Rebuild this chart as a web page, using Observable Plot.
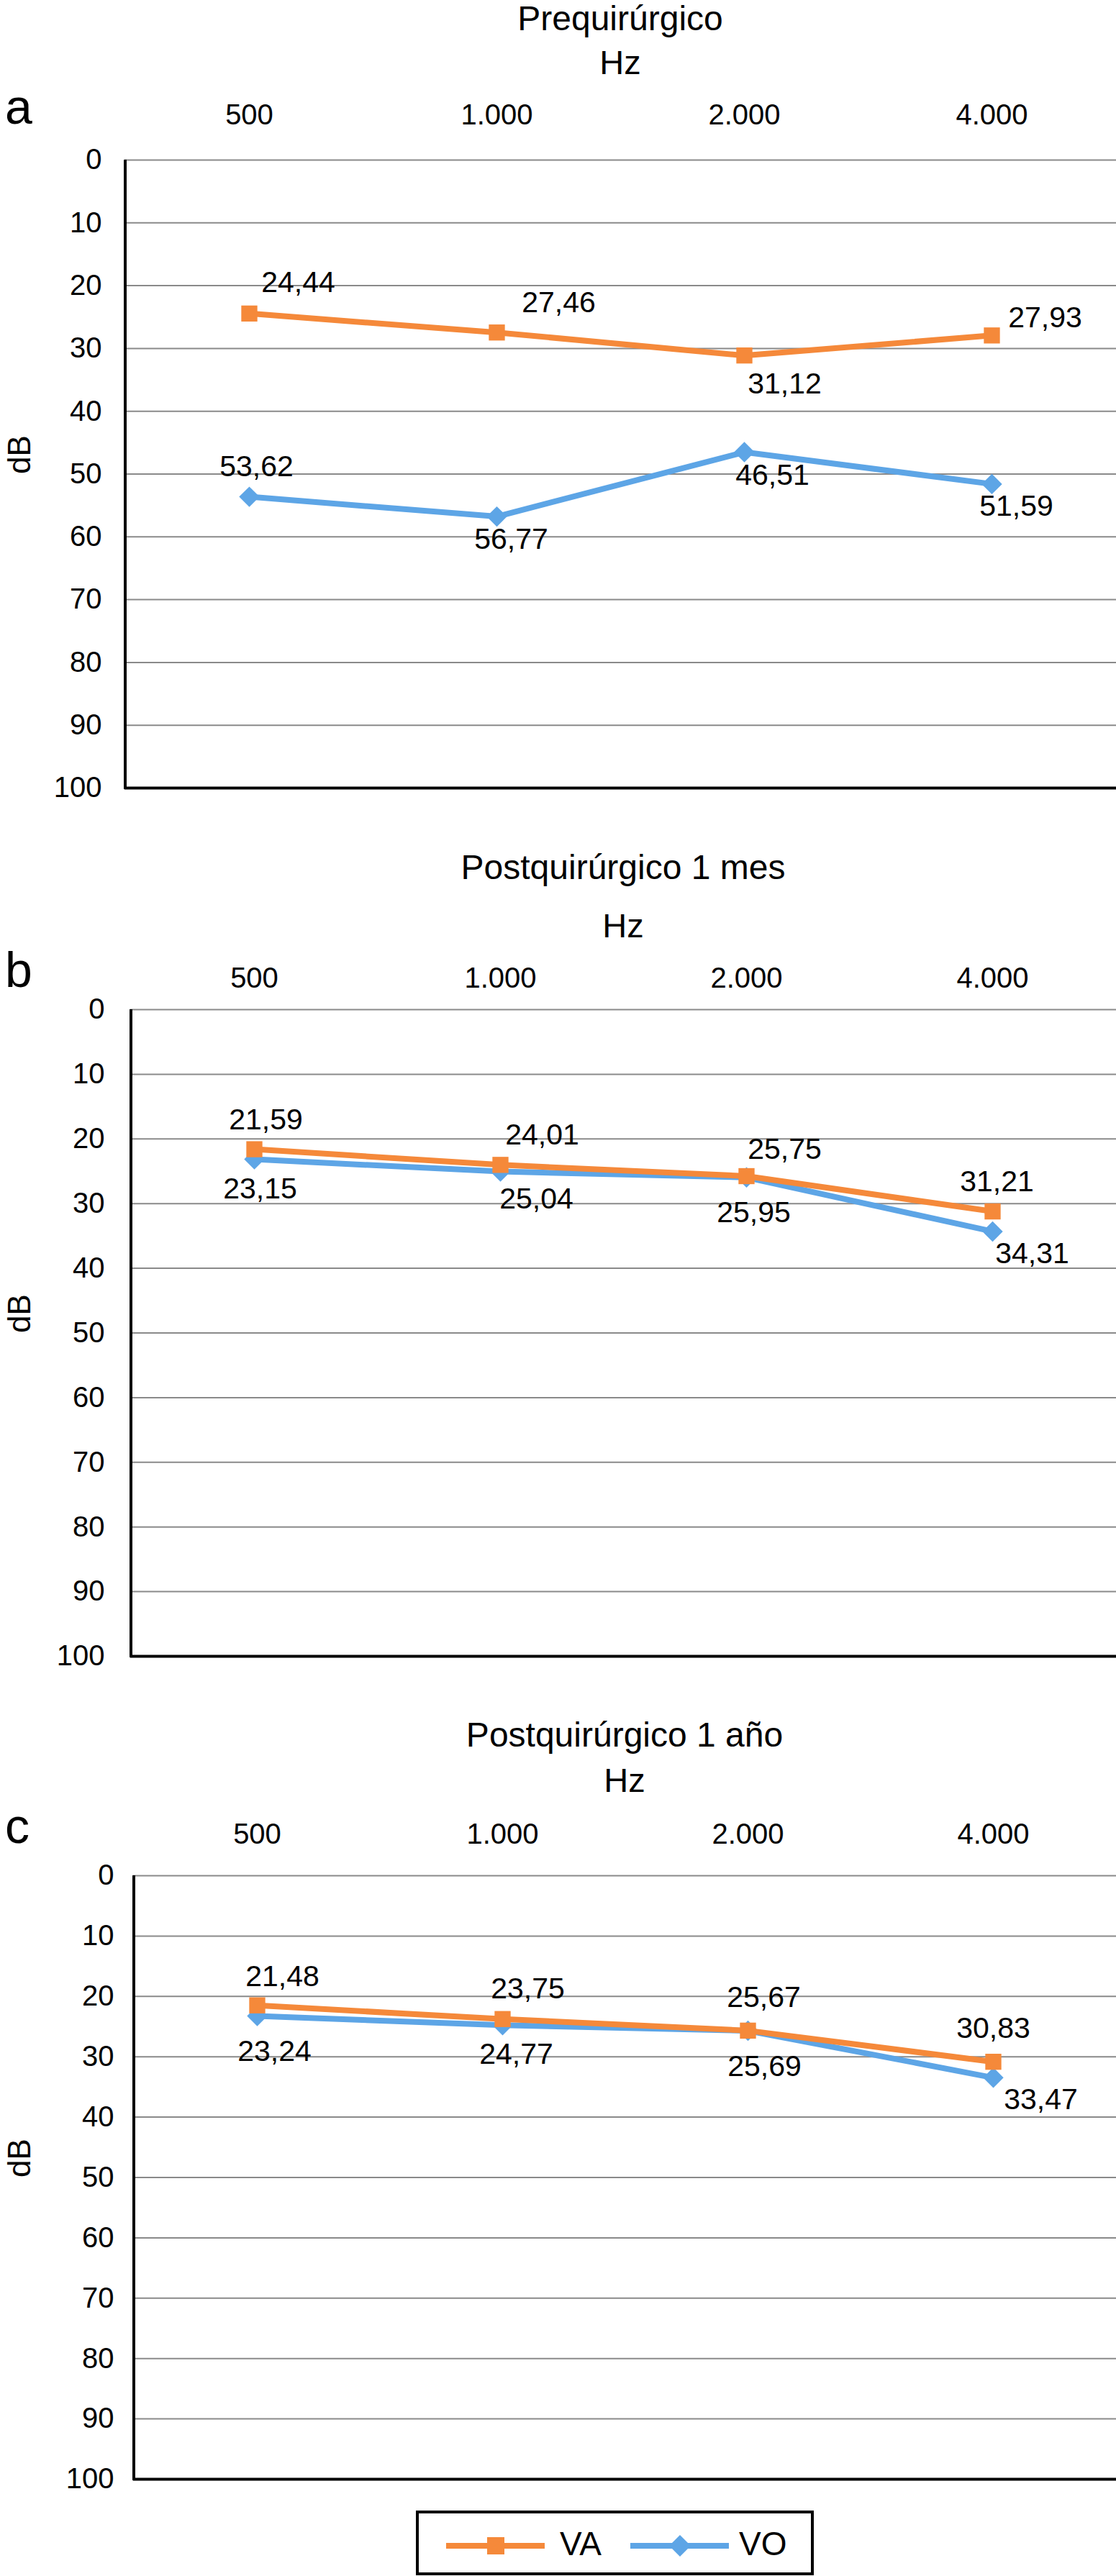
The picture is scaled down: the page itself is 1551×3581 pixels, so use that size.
<!DOCTYPE html>
<html><head><meta charset="utf-8">
<script src="https://cdn.jsdelivr.net/npm/d3@7"></script>
<script src="https://cdn.jsdelivr.net/npm/@observablehq/plot@0.6"></script>
<style>
html,body{margin:0;padding:0;background:#fff;overflow:hidden;}
#root{position:relative;width:1551px;height:3581px;font-family:"Liberation Sans",Arial,Helvetica,sans-serif;color:#000;background:#fff;}
.t{position:absolute;white-space:nowrap;line-height:1;}
.panel{position:absolute;left:0;}
</style></head><body><div id="root"></div>
<script>
// ---- data ----
const frequencies = ["500", "1.000", "2.000", "4.000"];
const seriesNames = ["VA", "VO"];
const panelLetters = ["a", "b", "c"];
const panelTitles = ["Prequirúrgico", "Postquirúrgico 1 mes", "Postquirúrgico 1 año"];
const xTitle = "Hz";
const yTitle = "dB";
const yTicks = [0, 10, 20, 30, 40, 50, 60, 70, 80, 90, 100];

const preVA = [24.44, 27.46, 31.12, 27.93];
const preVO = [53.62, 56.77, 46.51, 51.59];
const mesVA = [21.59, 24.01, 25.75, 31.21];
const mesVO = [23.15, 25.04, 25.95, 34.31];
const anoVA = [21.48, 23.75, 25.67, 30.83];
const anoVO = [23.24, 24.77, 25.69, 33.47];

// ---- layout / style (not data) ----
const colors = {VA: "#F5893A", VO: "#5DA5E6"};
const layouts = [
  {plotTop: 222, plotBottom: 1095, left: 173, tickBase: 172, yPad: 32, titleBase: 43, hzBase: 103},
  {plotTop: 1403, plotBottom: 2302, left: 181, tickBase: 1372, yPad: 36, titleBase: 1223, hzBase: 1303},
  {plotTop: 2607, plotBottom: 3446, left: 185, tickBase: 2562, yPad: 27, titleBase: 2429, hzBase: 2491}
];
const labelOffsetsVA = [
  [[68, -30], [86, -28], [56, 53], [74, -11]],
  [[16, -28], [58, -28], [53, -24], [6, -28]],
  [[35, -27], [35, -29], [22, -33], [0, -33]]
];
const labelOffsetsVO = [
  [[10, -29], [20, 45], [39, 45], [34, 44]],
  [[8, 54], [50, 51], [10, 62], [55, 44]],
  [[24, 63], [19, 54], [23, 63], [66, 44]]
];

const panelsData = [[preVA, preVO], [mesVA, mesVO], [anoVA, anoVO]];
const fmt = v => d3.format(".2f")(v).replace(".", ",");
const root = document.getElementById("root");
const W = 1551;
const FONT = "'Liberation Sans', Arial, Helvetica, sans-serif";

function addText(txt, size, baseline, opts = {}) {
  const d = document.createElement("div");
  d.className = "t";
  d.textContent = txt;
  d.style.fontSize = size + "px";
  d.style.top = (baseline - 0.8465 * size) + "px";
  if (opts.center != null) { d.style.left = opts.center + "px"; d.style.transform = "translateX(-50%)"; }
  else d.style.left = opts.left + "px";
  d.style.zIndex = 2;
  root.appendChild(d);
}

panelsData.forEach(([va, vo], p) => {
  const L = layouts[p];
  const svgTop = L.plotTop - 100;
  const mt = 100, mb = 20;
  const height = L.plotBottom - L.plotTop + mt + mb;
  const vaRows = frequencies.map((f, i) => ({freq: f, db: va[i], serie: seriesNames[0]}));
  const voRows = frequencies.map((f, i) => ({freq: f, db: vo[i], serie: seriesNames[1]}));

  const labelMarks = [];
  vaRows.forEach((r, i) => labelMarks.push(Plot.text([r], {
    x: "freq", y: "db", text: d => fmt(d.db), fontSize: 41, fill: "#000",
    lineAnchor: "bottom", textAnchor: "middle", dx: labelOffsetsVA[p][i][0], dy: labelOffsetsVA[p][i][1]
  })));
  voRows.forEach((r, i) => labelMarks.push(Plot.text([r], {
    x: "freq", y: "db", text: d => fmt(d.db), fontSize: 41, fill: "#000",
    lineAnchor: "bottom", textAnchor: "middle", dx: labelOffsetsVO[p][i][0], dy: labelOffsetsVO[p][i][1]
  })));

  const leftAxis = (index, scales, values, dims) => {
    const g = d3.create("svg:g");
    g.append("line")
      .attr("x1", dims.marginLeft + 1).attr("x2", dims.marginLeft + 1)
      .attr("y1", dims.marginTop).attr("y2", dims.height - dims.marginBottom + 2)
      .attr("stroke", "#000").attr("stroke-width", 4);
    return g.node();
  };

  const chart = Plot.plot({
    width: W,
    height,
    marginTop: mt,
    marginBottom: mb,
    marginLeft: L.left,
    marginRight: 0,
    style: {fontFamily: FONT, fontSize: "40px", background: "transparent", color: "#000", overflow: "visible"},
    x: {type: "point", domain: frequencies, padding: 0.5},
    y: {domain: [0, 100], reverse: true},
    marks: [
      Plot.gridY(yTicks, {stroke: "#8a8a8a", strokeOpacity: 1, strokeWidth: 2}),
      Plot.axisX({anchor: "top", tickSize: 0, tickPadding: L.plotTop - L.tickBase, label: null, fontSize: 40, fill: "#000"}),
      Plot.axisY(yTicks, {anchor: "left", tickSize: 0, tickPadding: L.yPad, label: null, fontSize: 40, fill: "#000"}),
      Plot.text([yTitle], {frameAnchor: "left", rotate: -90, dx: -(L.left - 27), fontSize: 44, fill: "#000"}),
      Plot.line(voRows, {x: "freq", y: "db", stroke: colors.VO, strokeWidth: 8, strokeLinejoin: "round"}),
      Plot.dot(voRows, {x: "freq", y: "db", symbol: "diamond2", r: 12.8, fill: colors.VO, stroke: "none"}),
      Plot.line(vaRows, {x: "freq", y: "db", stroke: colors.VA, strokeWidth: 8, strokeLinejoin: "round"}),
      Plot.dot(vaRows, {x: "freq", y: "db", symbol: "square", r: 12.6, fill: colors.VA, stroke: "none"}),
      ...labelMarks,
      Plot.ruleY([100], {stroke: "#000", strokeWidth: 4}),
      leftAxis
    ]
  });
  const wrap = document.createElement("div");
  wrap.className = "panel";
  wrap.style.top = svgTop + "px";
  chart.style.maxWidth = "none";
  wrap.appendChild(chart);
  root.appendChild(wrap);

  const plotCenter = (L.left + W) / 2;
  addText(panelTitles[p], 48, L.titleBase, {center: plotCenter});
  addText(xTitle, 47, L.hzBase, {center: plotCenter});
  addText(panelLetters[p], 68, L.tickBase, {left: 7});
});

// ---- legend ----
const leg = d3.create("svg")
  .attr("width", 553).attr("height", 91)
  .style("position", "absolute").style("left", "578px").style("top", "3490px")
  .style("font-family", FONT);
leg.append("rect").attr("x", 2).attr("y", 2).attr("width", 549).attr("height", 86)
  .attr("fill", "#fff").attr("stroke", "#000").attr("stroke-width", 4);
const legendItems = [
  {name: seriesNames[0], x0: 42, x1: 179, cx: 111, tx: 200, shape: "square"},
  {name: seriesNames[1], x0: 298, x1: 435, cx: 367, tx: 449, shape: "diamond"}
];
legendItems.forEach(it => {
  leg.append("line").attr("x1", it.x0).attr("x2", it.x1).attr("y1", 49).attr("y2", 49)
    .attr("stroke", colors[it.name]).attr("stroke-width", 8);
  if (it.shape === "square") {
    leg.append("rect").attr("x", it.cx - 12).attr("y", 49 - 12).attr("width", 24).attr("height", 24).attr("fill", colors[it.name]);
  } else {
    leg.append("path").attr("d", `M${it.cx},${49 - 15}L${it.cx + 15},49L${it.cx},${49 + 15}L${it.cx - 15},49Z`).attr("fill", colors[it.name]);
  }
  leg.append("text").attr("x", it.tx).attr("y", 62).attr("font-size", 46).attr("fill", "#000").text(it.name);
});
root.appendChild(leg.node());
</script>
</body></html>
